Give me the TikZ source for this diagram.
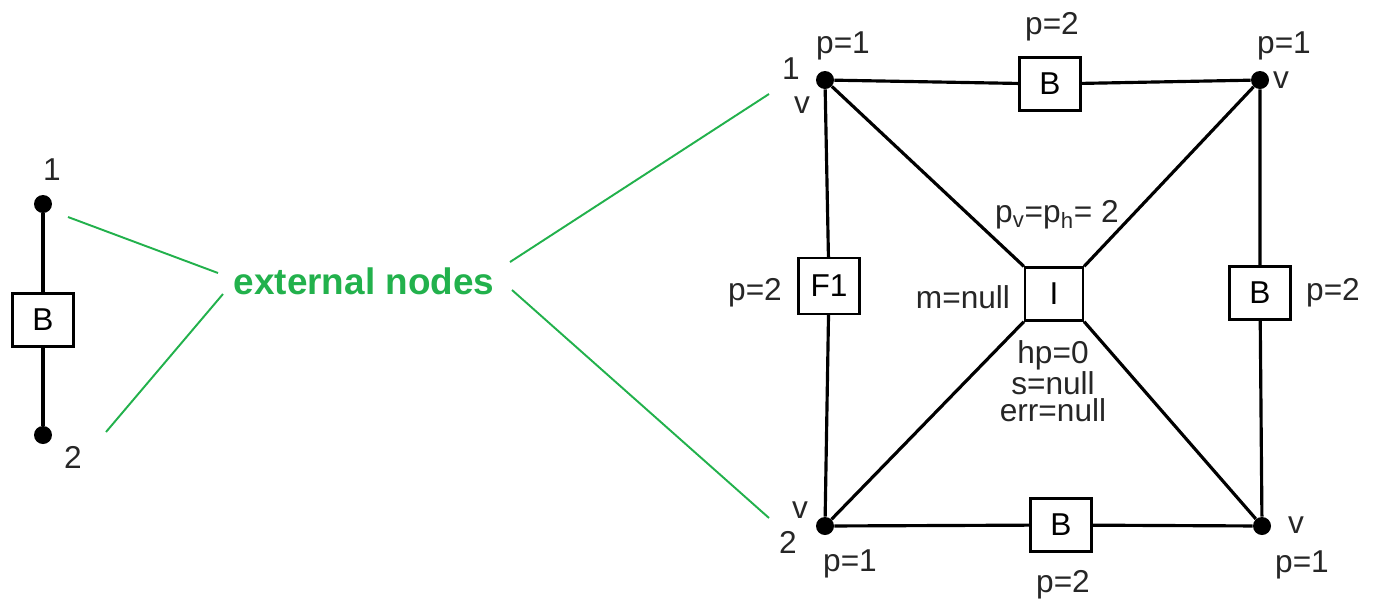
\documentclass[tikz,border=0pt]{standalone}
\usepackage{fontspec}
\setmainfont{Liberation Sans}
\usetikzlibrary{positioning}
\definecolor{extgreen}{RGB}{34,177,76}

\begin{document}
\begin{tikzpicture}[
  x=0.02cm, y=-0.02cm,
  font=\fontsize{18}{18}\selectfont,
  box/.style={draw, line width=1.3pt, fill=white, inner sep=0pt, minimum width=1.22cm, minimum height=1.06cm},
  dot/.style={circle, fill=black, inner sep=0pt, minimum size=0.36cm},
  wire/.style={line width=1.8pt},
  lbl/.style={inner sep=0pt, text=black!85},
  ext/.style={extgreen, line width=1.1pt}
]
\useasboundingbox (0,0) rectangle (1373,603);

% single element with its two end nodes
\node[dot] (a1) at (43,204) {};
\node[dot] (a2) at (43,435) {};
\node[box] (ab) at (43,320) {B};
\draw[wire] (a1) -- (ab) -- (a2);
\node[lbl] (a1n) at (52,170) {1};
\node[lbl] (a2n) at (73,457) {2};

% green annotation
\node[text=extgreen, font=\fontsize{21}{24}\selectfont\bfseries] (extlbl) at (364,281) {external nodes};
\coordinate (g1) at (68,217);  \coordinate (g1e) at (218,273);
\coordinate (g2) at (106,432); \coordinate (g2e) at (223,294);
\coordinate (g3) at (510,262); \coordinate (g3e) at (769,94);
\coordinate (g4) at (512,290); \coordinate (g4e) at (769,518);
\draw[ext] (g1) -- (g1e);
\draw[ext] (g2) -- (g2e);
\draw[ext] (g3) -- (g3e);
\draw[ext] (g4) -- (g4e);

% macro element
\node[dot] (v1) at (825,80) {};
\node[dot] (v2) at (1260,80) {};
\node[dot] (v3) at (1262,526) {};
\node[dot] (v4) at (825,526) {};
\node[box] (bt) at (1050,84) {B};
\node[box] (bb) at (1061,525) {B};
\node[box, minimum height=1.12cm] (f1) at (829,286) {F1};
\node[box] (br) at (1260,293) {B};
\node[box, minimum width=1.16cm] (ii) at (1054,294) {I};
\draw[wire] (v1) -- (bt) -- (v2);
\draw[wire] (v4) -- (bb) -- (v3);
\draw[wire] (v1) -- (f1) -- (v4);
\draw[wire] (v2) -- (br) -- (v3);
\draw[wire] (v1) -- (ii.north west);
\draw[wire] (v2) -- (ii.north east);
\draw[wire] (v3) -- (ii.south east);
\draw[wire] (v4) -- (ii.south west);

% labels
\node[lbl] (p1a) at (843,46) {p=1};
\node[lbl] (n1) at (791,69) {1};
\node[lbl] (v1n) at (802,105) {v};
\node[lbl] (p2t) at (1052,27) {p=2};
\node[lbl] (p1b) at (1284,46) {p=1};
\node[lbl] (v2n) at (1281,80) {v};
\node[lbl] (v4n) at (800,510) {v};
\node[lbl] (n2) at (788,542) {2};
\node[lbl] (p1d) at (850,564) {p=1};
\node[lbl] (p2b) at (1063,585) {p=2};
\node[lbl] (v3n) at (1296,525) {v};
\node[lbl] (p1c) at (1302,565) {p=1};
\node[lbl] (p2l) at (755,293) {p=2};
\node[lbl] (p2r) at (1333,293) {p=2};
\node[lbl] (mnull) at (963,297) {m=null};
\node[lbl] (pvh) at (1057,215) {p\textsubscript{v}=p\textsubscript{h}= 2};
\node[lbl, align=center, font=\fontsize{18}{15.5}\selectfont] (stat) at (1053,381) {hp=0\\s=null\\err=null};
\end{tikzpicture}
\end{document}
